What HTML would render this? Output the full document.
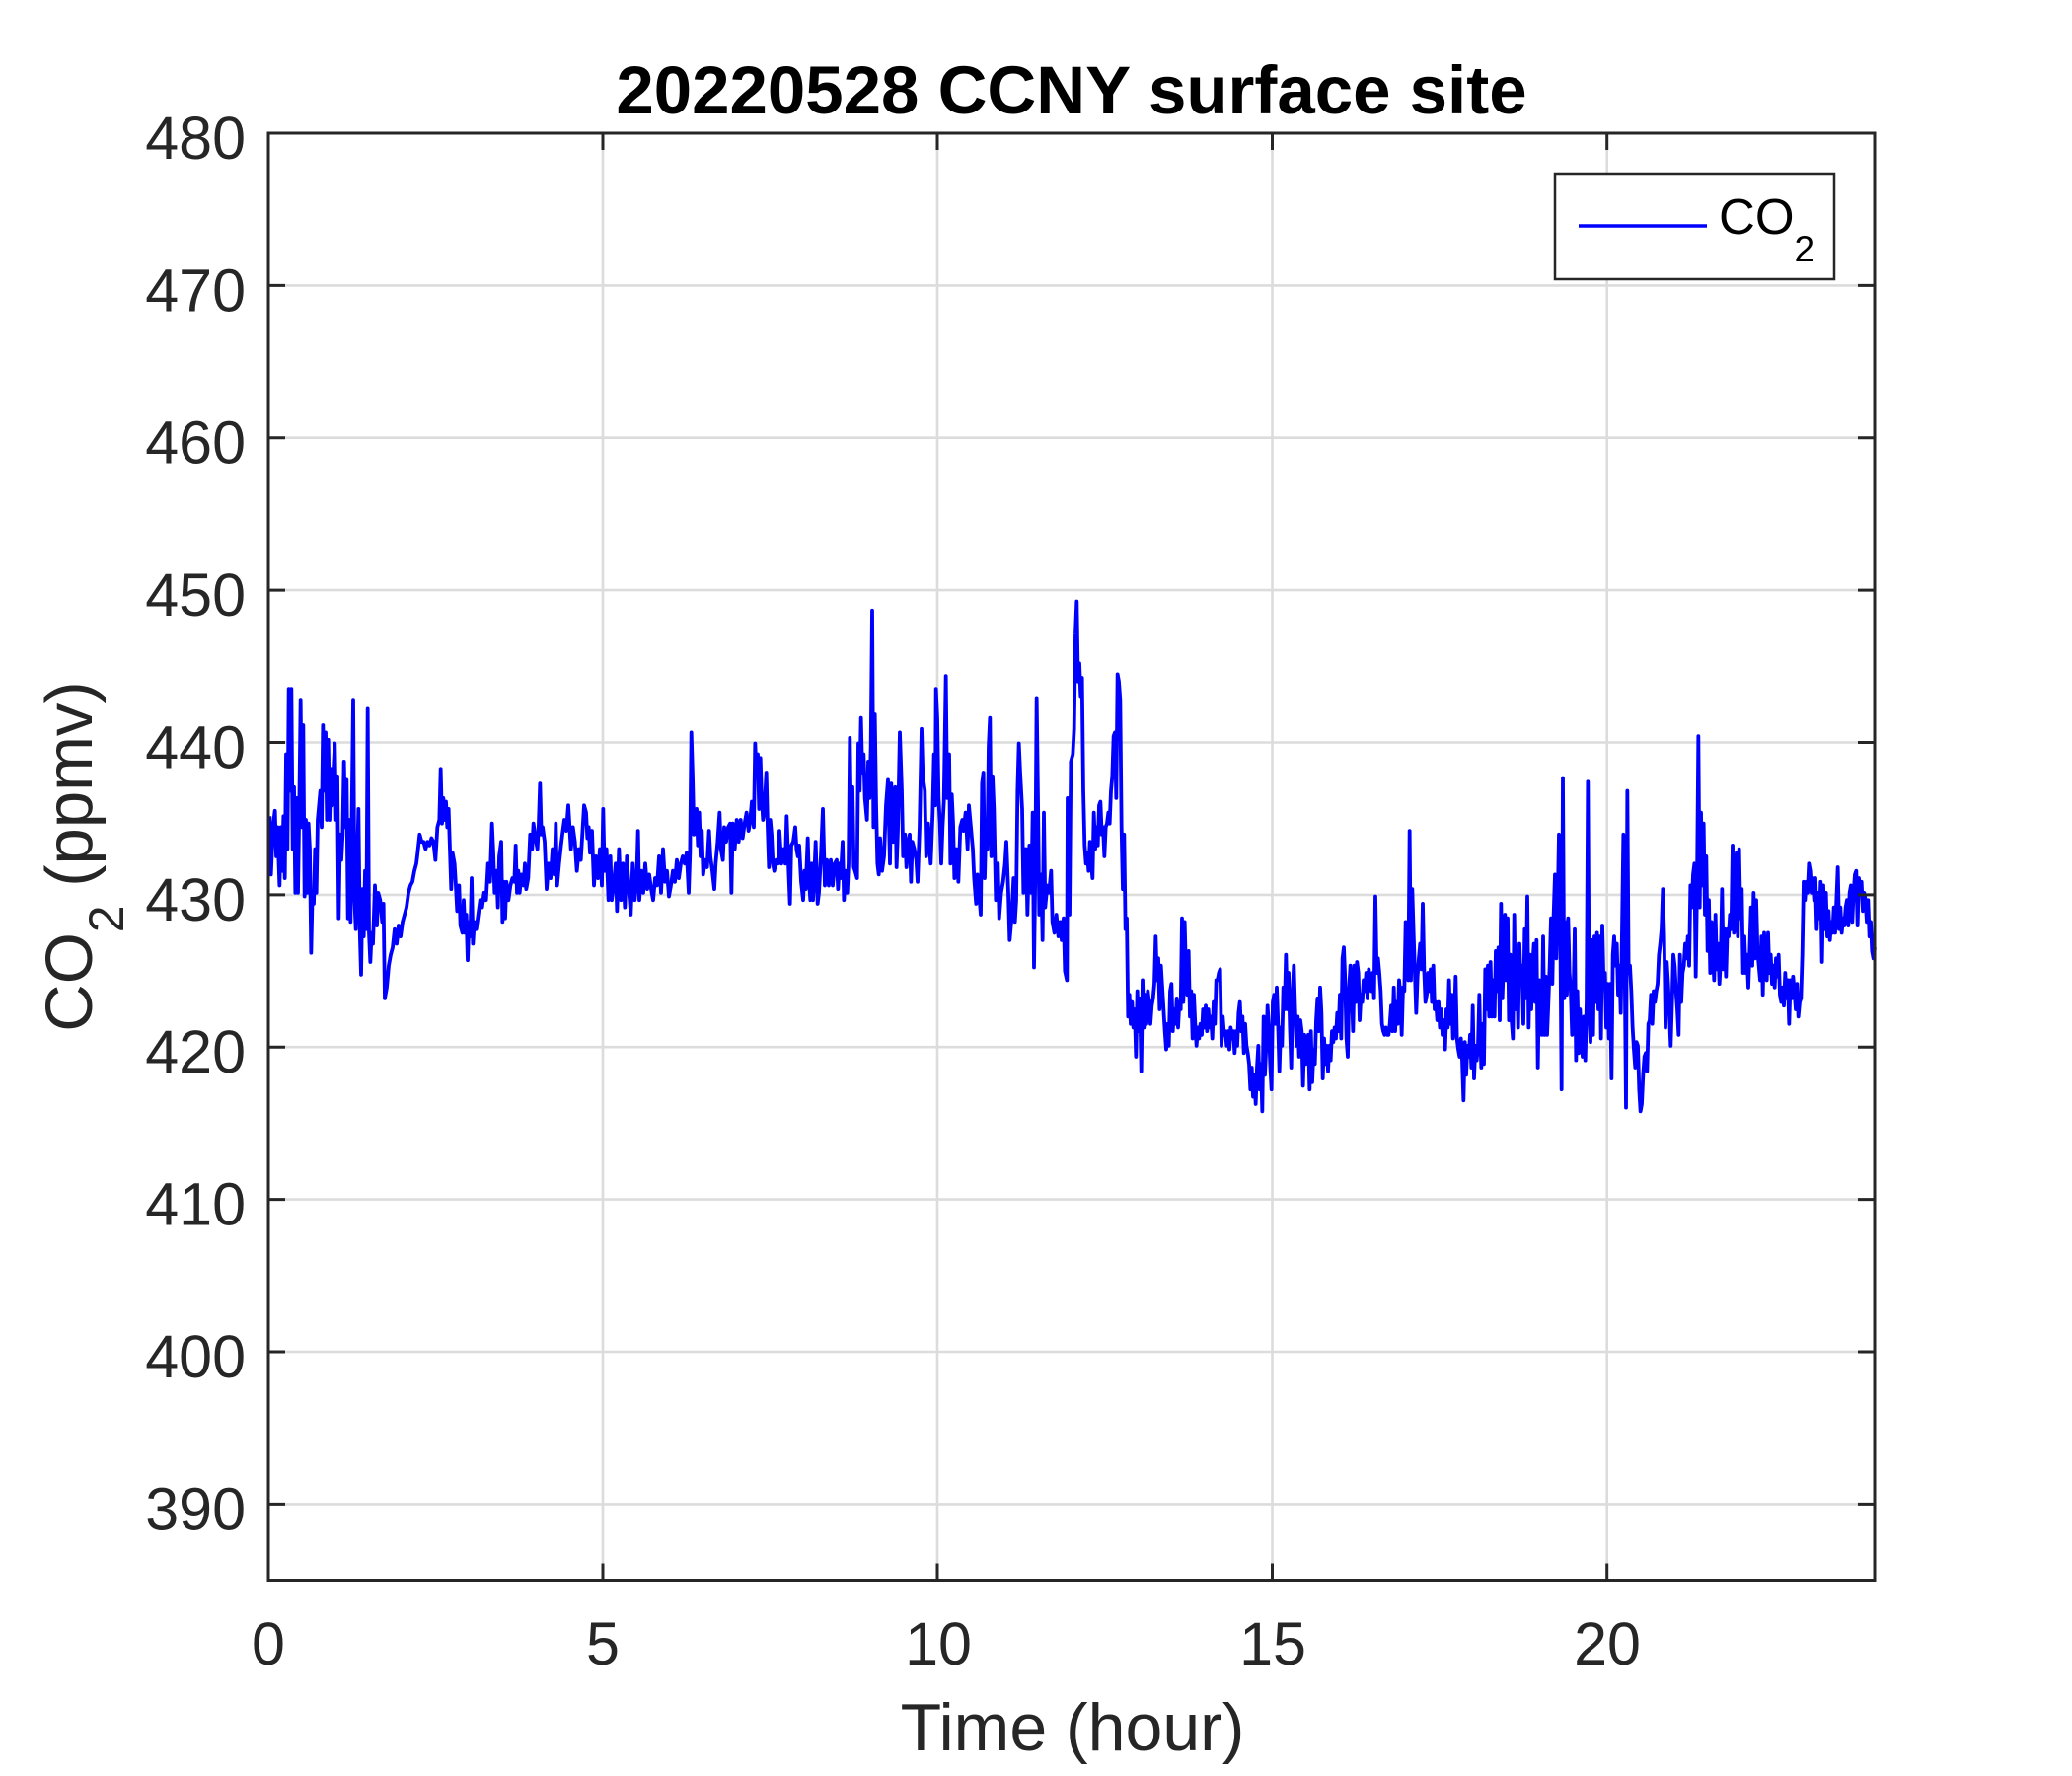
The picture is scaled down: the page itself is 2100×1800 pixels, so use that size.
<!DOCTYPE html>
<html>
<head>
<meta charset="utf-8">
<style>
html,body{margin:0;padding:0;background:#fff;}
svg{display:block;}
text{font-family:"Liberation Sans",Arial,Helvetica,sans-serif;}
</style>
</head>
<body>
<svg width="2100" height="1800" viewBox="0 0 2100 1800" xmlns="http://www.w3.org/2000/svg">
<rect x="0" y="0" width="2100" height="1800" fill="#ffffff"/>

<!-- grid -->
<g stroke="#dcdcdc" stroke-width="2.6" fill="none">
  <line x1="611" y1="135" x2="611" y2="1601.5"/>
  <line x1="950" y1="135" x2="950" y2="1601.5"/>
  <line x1="1289.5" y1="135" x2="1289.5" y2="1601.5"/>
  <line x1="1628.7" y1="135" x2="1628.7" y2="1601.5"/>
  <line x1="272" y1="289.4" x2="1900" y2="289.4"/>
  <line x1="272" y1="443.7" x2="1900" y2="443.7"/>
  <line x1="272" y1="598.1" x2="1900" y2="598.1"/>
  <line x1="272" y1="752.5" x2="1900" y2="752.5"/>
  <line x1="272" y1="906.9" x2="1900" y2="906.9"/>
  <line x1="272" y1="1061.2" x2="1900" y2="1061.2"/>
  <line x1="272" y1="1215.6" x2="1900" y2="1215.6"/>
  <line x1="272" y1="1370" x2="1900" y2="1370"/>
  <line x1="272" y1="1524.4" x2="1900" y2="1524.4"/>
</g>

<!-- data -->
<g fill="none" stroke="#0000ff" stroke-width="3.8" stroke-linejoin="round" stroke-linecap="butt">
<g transform="translate(270,580) scale(0.33333,0.36914)">
<polyline vector-effect="non-scaling-stroke" points="10,670 14,830 20,700 26,655 30,780 34,700 40,860 44,700 48,820 52,670 56,840 60,500 64,760 68,320 72,600 76,320 80,760 84,590 88,880 92,620 96,880 100,640 104,350 108,700 112,420 116,890 120,680 124,880 128,690 132,760 136,1045 140,880 144,910 148,760 152,880 156,680 160,640 164,600 168,700 172,420 176,600 180,440 184,680 188,460 192,680 196,540 200,640 204,540 208,470 212,680 216,560 220,950 224,720 228,790 232,720 236,520 240,700 244,570 248,950 252,680 256,960 260,650 264,350 268,900 272,980 276,800 280,650 284,980 288,1105 292,870 296,1000 300,820 304,980 308,375 312,990 316,1070 320,990 324,1020 330,860 336,970 340,880 346,900 352,960 356,910 360,1170 366,1140 372,1080 378,1050 384,1030 390,980 396,1020 402,970 408,1000 414,960 420,940 426,920 432,880 438,860 444,850 450,820 456,800 460,770 466,720 472,740 478,740 484,760 490,740 496,750 502,730 508,740 514,790 520,700 526,680 530,540 534,690 538,620 542,680 546,630 550,700 554,650 558,760 562,870 566,770 572,800 576,860 580,930 586,860 590,970 596,990 600,900 604,990 608,940 612,1065 616,960 620,1000 624,840 628,1020 632,960 638,980 644,940 650,900 656,920 662,880 668,900 674,800 680,850 686,690 690,770 694,880 700,820 704,920 708,780 714,740 718,960 722,850 726,950 730,850 736,900 742,860 748,840 754,850 758,750 762,880 766,820 770,880 776,830 782,860 786,800 790,870 796,840 802,720 808,760 812,690 818,730 824,760 828,690 832,580 836,720 840,700 846,740 852,870 858,800 864,840 870,760 876,830 880,690 884,860 890,800 896,750 900,720 906,680 912,710 918,640 922,700 926,760 932,700 938,740 944,820 950,760 956,790 962,700 966,640 972,660 976,730 980,700 984,770 990,710 996,860 1002,780 1008,840 1014,760 1020,860 1024,650 1028,820 1034,760 1040,900 1046,780 1050,900 1056,860 1062,800 1066,930 1072,760 1078,900 1084,800 1090,920 1096,780 1102,870 1108,940 1114,800 1120,900 1126,840 1130,710 1134,900 1140,820 1146,880 1152,800 1158,870 1164,830 1170,870 1176,900 1182,840 1188,860 1194,780 1200,880 1206,760 1212,850 1218,820 1224,890 1230,860"/>
</g>
<g transform="translate(680,580) scale(0.33333,0.36914)">
<polyline vector-effect="non-scaling-stroke" points="0,860 6,820 12,850 18,790 24,840 30,800 36,780 42,800 48,770 54,880 58,770 62,440 66,560 70,720 74,690 78,650 82,750 86,660 90,780 94,710 98,830 104,790 110,810 116,710 120,780 126,820 132,870 136,800 142,740 148,660 152,760 158,790 162,700 168,740 174,700 180,690 184,880 188,690 194,760 200,680 206,740 212,680 218,730 224,690 230,660 236,710 240,690 246,630 252,700 256,470 260,560 264,500 268,650 272,510 276,620 280,680 284,660 290,550 294,700 298,810 302,680 306,720 310,800 314,820 320,790 326,800 330,710 336,800 342,760 348,800 352,670 358,820 362,910 366,750 372,740 378,700 382,760 386,780 390,750 396,850 402,900 406,820 410,870 416,730 420,850 424,900 428,800 432,900 436,830 440,740 446,910 450,880 456,780 462,650 468,860 474,790 480,860 486,790 492,860 498,800 504,790 508,870 512,800 516,840 522,740 526,900 530,820 536,880 540,800 544,455 548,720 552,590 556,810 560,820 566,840 570,470 574,600 578,400 582,550 586,500 590,620 596,680 600,520 604,620 608,480 612,105 616,700 620,390 624,640 628,800 632,830 636,730 642,820 648,780 654,640 660,570 666,800 670,580 676,740 682,590 686,810 690,710 696,440 702,600 706,780 712,720 716,810 722,740 726,720 730,850 734,740 740,760 746,790 750,850 756,700 762,430 766,560 772,600 776,780 782,690 786,750 790,800 796,660 800,500 804,640 806,320 810,400 814,620 818,690 822,800 826,700 830,630 836,285 840,620 846,500 850,800 854,610 858,690 862,840 868,760 874,850 880,700 886,680 890,710 896,660 902,760 906,640 912,700 918,760 922,840 928,910 932,830 936,870 942,940 946,580 950,550 954,840 958,680 962,760 966,480 970,400 974,780 978,560 982,650 988,900 994,800 998,950 1004,880 1010,850 1016,800 1020,740 1026,880 1030,1010 1036,950 1042,840 1046,960 1050,900 1054,600 1058,470 1062,550 1068,650 1072,880 1076,760 1080,760 1084,940 1090,750 1096,880 1100,660 1104,1085 1108,820 1112,345 1116,620 1120,940 1126,830 1130,1010 1134,660 1138,920 1144,860 1150,880 1156,820 1160,960 1166,990 1172,940 1178,1000 1184,960 1188,1010 1194,950 1198,1095 1204,1120 1206,620 1212,940 1216,520 1222,500 1226,430 1230,170"/>
</g>
<g transform="translate(1090,580) scale(0.33333,0.36914)">
<polyline vector-effect="non-scaling-stroke" points="0,170 4,80 8,300 12,250 16,340 20,290 24,600 28,750 32,800 36,770 40,820 44,740 48,800 52,840 56,660 60,760 64,700 68,750 72,640 76,630 80,720 84,700 88,780 92,700 96,690 100,660 104,690 108,600 112,560 116,450 120,440 124,620 128,280 132,300 136,350 140,700 144,870 148,720 152,980 156,950 160,1220 164,1160 168,1240 172,1180 176,1250 180,1200 184,1330 188,1150 192,1260 196,1170 200,1370 204,1120 208,1250 212,1160 216,1240 220,1150 224,1180 228,1240 232,1190 236,1170 240,1130 244,1000 248,1120 252,1060 256,1200 260,1080 264,1140 268,1200 272,1260 276,1310 280,1240 284,1300 288,1150 292,1130 296,1260 300,1200 304,1240 308,1170 312,1250 316,1180 320,1200 324,950 328,1180 332,960 336,1100 340,1160 344,1040 348,1220 352,1150 356,1280 360,1160 364,1240 368,1300 372,1250 376,1280 380,1240 384,1270 388,1200 392,1250 396,1190 400,1260 404,1200 408,1250 412,1220 416,1280 420,1180 424,1240 428,1120 432,1120 436,1100 440,1090 444,1300 448,1220 452,1270 456,1260 460,1300 464,1260 468,1310 472,1250 476,1280 480,1260 484,1320 488,1260 492,1300 496,1210 500,1180 504,1260 508,1220 512,1320 516,1240 520,1300 524,1320 528,1350 532,1420 536,1360 540,1440 544,1380 548,1460 552,1360 556,1300 560,1420 564,1350 568,1480 572,1220 576,1380 580,1300 584,1190 588,1250 592,1350 596,1420 600,1180 604,1160 608,1240 612,1140 616,1240 620,1370 624,1250 628,1300 632,1140 636,1200 640,1050 644,1200 648,1100 652,1250 656,1360 660,1160 664,1080 668,1200 672,1300 676,1220 680,1330 684,1230 688,1260 692,1410 696,1270 700,1350 704,1290 708,1270 712,1420 716,1260 720,1400 724,1310 728,1350 732,1230 736,1170 740,1260 744,1140 748,1210 752,1390 756,1280 760,1350 764,1300 768,1370 772,1300 776,1340 780,1260 784,1290 788,1250 792,1280 796,1210 800,1260 804,1160 808,1280 812,1060 816,1030 820,1120 824,1280 828,1330 832,1140 836,1080 840,1150 844,1260 848,1080 852,1180 856,1070 860,1100 864,1230 868,1160 872,1180 876,1120 880,1150 884,1100 888,1170 892,1090 896,1120 900,1150 904,1100 908,1170 912,890 916,1100 920,1060 924,1100 928,1150 932,1240 936,1260 940,1270 944,1250 948,1270 952,1270 956,1240 960,1190 964,1260 968,1140 972,1260 976,1180 980,1240 984,1120 988,1160 992,1270 996,1140 1000,1150 1004,960 1008,1020 1012,1120 1016,710 1020,1120 1024,870 1028,990 1032,1100 1036,1210 1040,1110 1044,1060 1048,1020 1052,1090 1056,910 1060,1090 1064,1180 1068,1160 1072,1100 1076,1150 1080,1090 1084,1180 1088,1080 1092,1200 1096,1180 1100,1230 1104,1180 1108,1250 1112,1200 1116,1270 1120,1230 1124,1310 1128,1200 1132,1250 1136,1120 1140,1240 1144,1160 1148,1280 1152,1230 1156,1110 1160,1280 1164,1310 1168,1330 1172,1280 1176,1340 1180,1450 1184,1290 1188,1380 1192,1300 1196,1330 1200,1270 1204,1360 1208,1190 1212,1390 1216,1300 1220,1340 1224,1300 1228,1160 1230,1250"/>
</g>
<g transform="translate(1500,580) scale(0.33333,0.36914)">
<polyline vector-effect="non-scaling-stroke" points="0,1250 4,1360 8,1240 12,1350 16,1090 20,1200 24,1080 28,1220 32,1070 36,1220 40,1120 44,1220 48,1040 52,1150 56,1030 60,1230 64,910 68,1170 72,1060 76,940 80,1120 84,950 88,1230 92,1050 96,1230 100,1280 104,940 108,1200 112,1060 116,1250 120,1020 124,1130 128,1080 132,1240 136,980 140,1170 144,890 148,1250 152,1050 156,1200 160,1080 164,1020 168,1180 172,1010 176,1360 180,1120 184,1200 188,1270 192,1000 196,1270 200,1110 204,1270 208,1180 212,1080 216,950 220,1130 224,940 228,830 232,1060 236,930 240,720 244,960 248,1420 252,565 256,1170 260,960 264,1160 268,950 272,1100 276,1150 280,1270 284,1180 288,980 292,1340 296,1150 300,1320 304,1200 308,1280 312,1330 316,1220 320,1340 324,1180 328,575 332,1200 336,1290 340,1010 344,1270 348,1000 352,1180 356,990 360,1200 364,1000 368,1280 372,970 376,1130 380,1100 384,1250 388,1130 392,1280 396,1130 400,1390 404,1050 408,1000 412,1080 416,1020 420,1160 424,1080 428,1210 432,980 436,720 440,1070 444,1470 448,600 452,1100 456,1080 460,1150 464,1250 468,1310 472,1360 476,1290 480,1300 484,1420 488,1480 492,1460 496,1380 500,1330 504,1320 508,1370 512,1240 516,1230 520,1160 524,1240 528,1150 532,1180 536,1150 540,1130 544,1050 548,1020 552,980 556,870 560,1000 564,1250 568,1070 572,1130 576,1210 580,1300 584,1180 588,1050 592,1080 596,1150 600,1200 604,1270 608,1050 612,1180 616,1100 620,1080 624,1020 628,1060 632,1000 636,1080 640,860 644,920 648,830 652,800 656,1110 660,860 664,450 668,920 672,660 676,860 680,690 684,940 688,780 692,1040 696,900 700,1100 704,960 708,1050 712,1120 716,940 720,1090 724,1020 728,1130 732,1060 736,870 740,1090 744,980 748,1110 752,980 756,1000 760,940 764,980 768,750 772,990 776,960 780,770 784,1000 788,760 792,950 796,870 800,1100 804,1000 808,1100 812,1050 816,1140 820,1040 824,920 828,1080 832,880 836,1060 840,900 844,1040 848,1080 852,1120 856,1000 860,1160 864,990 868,1090 872,1120 876,990 880,1100 884,1050 888,1130 892,1080 896,1140 900,1060 904,1110 908,1050 912,1160 916,1180 920,1140 924,1190 928,1100 932,1170 936,1120 940,1240 944,1120 948,1170 952,1110 956,1150 960,1200 964,1130 968,1220 972,1180 976,1170 980,1050 984,850 988,900 992,850 996,880 1000,800 1004,820 1008,880 1012,840 1016,900 1020,840 1024,980 1028,880 1032,950 1036,850 1040,1070 1044,860 1048,980 1052,880 1056,1000 1060,930 1064,1010 1068,960 1072,990 1076,920 1080,990 1084,900 1088,810 1092,980 1096,920 1100,990 1104,950 1108,970 1112,920 1116,900 1120,970 1124,880 1128,860 1132,960 1136,880 1140,830 1144,820 1148,970 1152,840 1156,880 1160,850 1164,930 1168,880 1172,900 1176,960 1180,900 1184,1000 1188,960 1192,1040 1196,1060 1200,1030"/>
</g>
</g>

<!-- axes box and ticks -->
<g stroke="#262626" stroke-width="3" fill="none">
  <rect x="272" y="135" width="1628" height="1466.5"/>
  <line x1="611" y1="1601.5" x2="611" y2="1584.5"/>
  <line x1="950" y1="1601.5" x2="950" y2="1584.5"/>
  <line x1="1289.5" y1="1601.5" x2="1289.5" y2="1584.5"/>
  <line x1="1628.7" y1="1601.5" x2="1628.7" y2="1584.5"/>
  <line x1="611" y1="135" x2="611" y2="152"/>
  <line x1="950" y1="135" x2="950" y2="152"/>
  <line x1="1289.5" y1="135" x2="1289.5" y2="152"/>
  <line x1="1628.7" y1="135" x2="1628.7" y2="152"/>
  <line x1="272" y1="289.4" x2="289" y2="289.4"/>
  <line x1="272" y1="443.7" x2="289" y2="443.7"/>
  <line x1="272" y1="598.1" x2="289" y2="598.1"/>
  <line x1="272" y1="752.5" x2="289" y2="752.5"/>
  <line x1="272" y1="906.9" x2="289" y2="906.9"/>
  <line x1="272" y1="1061.2" x2="289" y2="1061.2"/>
  <line x1="272" y1="1215.6" x2="289" y2="1215.6"/>
  <line x1="272" y1="1370" x2="289" y2="1370"/>
  <line x1="272" y1="1524.4" x2="289" y2="1524.4"/>
  <line x1="1900" y1="289.4" x2="1883" y2="289.4"/>
  <line x1="1900" y1="443.7" x2="1883" y2="443.7"/>
  <line x1="1900" y1="598.1" x2="1883" y2="598.1"/>
  <line x1="1900" y1="752.5" x2="1883" y2="752.5"/>
  <line x1="1900" y1="906.9" x2="1883" y2="906.9"/>
  <line x1="1900" y1="1061.2" x2="1883" y2="1061.2"/>
  <line x1="1900" y1="1215.6" x2="1883" y2="1215.6"/>
  <line x1="1900" y1="1370" x2="1883" y2="1370"/>
  <line x1="1900" y1="1524.4" x2="1883" y2="1524.4"/>
</g>

<!-- y tick labels -->
<g fill="#262626" font-size="61" text-anchor="end">
  <text x="249" y="161">480</text>
  <text x="249" y="315.4">470</text>
  <text x="249" y="469.7">460</text>
  <text x="249" y="624.1">450</text>
  <text x="249" y="778.5">440</text>
  <text x="249" y="932.9">430</text>
  <text x="249" y="1087.2">420</text>
  <text x="249" y="1241.6">410</text>
  <text x="249" y="1396">400</text>
  <text x="249" y="1550.4">390</text>
</g>

<!-- x tick labels -->
<g fill="#262626" font-size="61" text-anchor="middle">
  <text x="272" y="1687">0</text>
  <text x="611" y="1687">5</text>
  <text x="951" y="1687">10</text>
  <text x="1290" y="1687">15</text>
  <text x="1629" y="1687">20</text>
</g>

<!-- x label -->
<text x="1087" y="1774" fill="#262626" font-size="68" text-anchor="middle">Time (hour)</text>

<!-- y label -->
<text transform="translate(93,868) rotate(-90)" fill="#262626" font-size="67" text-anchor="middle">CO<tspan font-size="50" dy="32">2</tspan><tspan dy="-32"> (ppmv)</tspan></text>

<!-- title -->
<text x="1086" y="115" fill="#000000" font-size="69" font-weight="bold" text-anchor="middle">20220528 CCNY surface site</text>

<!-- legend -->
<rect x="1576" y="176" width="283" height="107" fill="#ffffff" stroke="#262626" stroke-width="2.5"/>
<line x1="1600" y1="229" x2="1730" y2="229" stroke="#0000ff" stroke-width="3.5"/>
<text x="1742" y="237" fill="#000000" font-size="51">CO<tspan font-size="37" dy="28">2</tspan></text>

</svg>
</body>
</html>
